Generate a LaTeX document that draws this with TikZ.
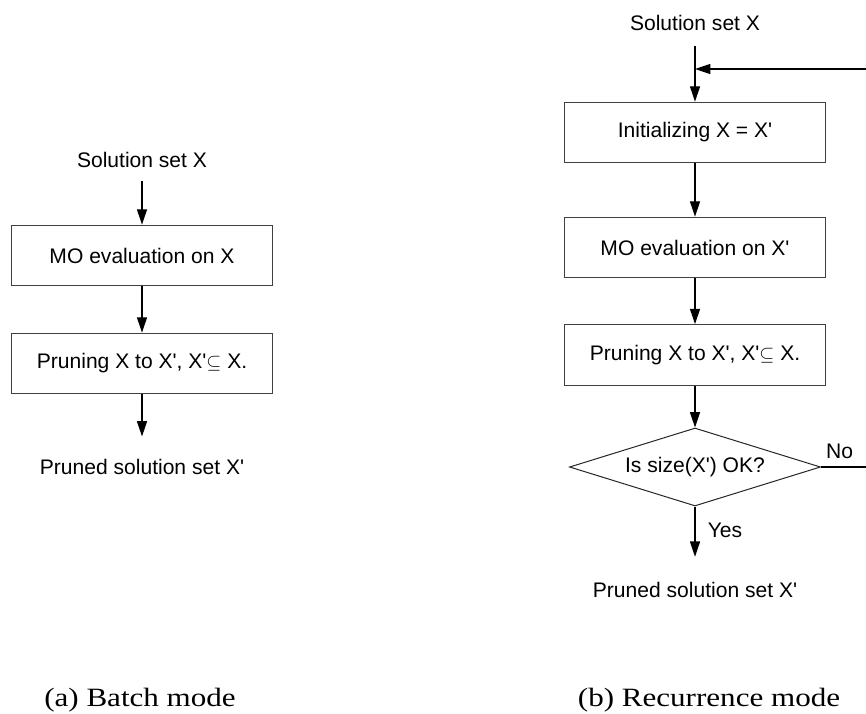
\documentclass[tikz,border=0pt]{standalone}
\usepackage{fontspec}
\newfontfamily\arialf{Liberation Sans}
\newfontfamily\capfont{Liberation Serif}
\usetikzlibrary{arrows.meta,shapes.geometric}
\begin{document}
\begin{tikzpicture}[x=0.75pt,y=-0.75pt,
  every node/.style={font=\arialf\fontsize{15.8}{19}\selectfont},
  lbl/.style={inner sep=0pt, anchor=base},
  procbox/.style={draw=black!75, line width=0.8pt, minimum width=196pt, minimum height=45.5pt, inner sep=0pt},
  decision/.style={diamond, draw=black!85, line width=0.75pt, minimum width=188.25pt, minimum height=58.5pt, aspect=3.2, inner sep=0pt},
  arr/.style={line width=1pt, -{Triangle[length=11.5pt,width=7.5pt]}},
  plain/.style={line width=1pt},
  captxt/.style={inner sep=0pt, anchor=base, font=\capfont\fontsize{23.3}{28}\selectfont, yscale=0.85}]
\useasboundingbox (0,0) rectangle (866,713);

% ---------- (a) Batch mode ----------
\node[lbl] (s1) at (142,167) {Solution set X};
\node[procbox] (b1) at (142,255.5) {MO evaluation on X};
\node[procbox] (b2) at (142,363.5) {Pruning X to X', X'$\subseteq$ X.};
\node[lbl] (o1) at (142,474) {Pruned solution set X'};
\draw[arr] ([yshift=-10.5pt]s1.south) -- (b1.north);
\draw[arr] (b1.south) -- (b2.north);
\draw[arr] (b2.south) -- ([yshift=16.5pt]o1.north);

% ---------- (b) Recurrence mode ----------
\node[lbl] (s2) at (695,31) {Solution set X};
\node[procbox] (init) at (695,132.5) {Initializing X = X'};
\node[procbox] (mo) at (695,247.5) {MO evaluation on X'};
\node[procbox] (pr) at (695,355) {Pruning X to X', X'$\subseteq$ X.};
\node[decision] (dia) at (695,467) {Is size(X') OK?};
\node[lbl] (o2) at (695,597) {Pruned solution set X'};
\node[lbl] (yes) at (725,537) {Yes};
\node[lbl] (no) at (839.5,458) {No};
\coordinate (fbR) at (866,69);

\draw[arr] ([yshift=-11pt]s2.south) -- (init.north);
\draw[arr] (fbR) -- (fbR -| init.north);
\draw[arr] (init.south) -- (mo.north);
\draw[arr] (mo.south) -- (pr.north);
\draw[arr] (pr.south) -- (dia.north);
\draw[arr] (dia.south) -- ([yshift=18.5pt]o2.north);
\draw[plain] (dia.east) -- (dia.east -| fbR);

% ---------- captions ----------
\node[captxt] (ca) at (140,706) {(a) Batch mode};
\node[captxt] (cb) at (709,706) {(b) Recurrence mode};
\end{tikzpicture}
\end{document}
